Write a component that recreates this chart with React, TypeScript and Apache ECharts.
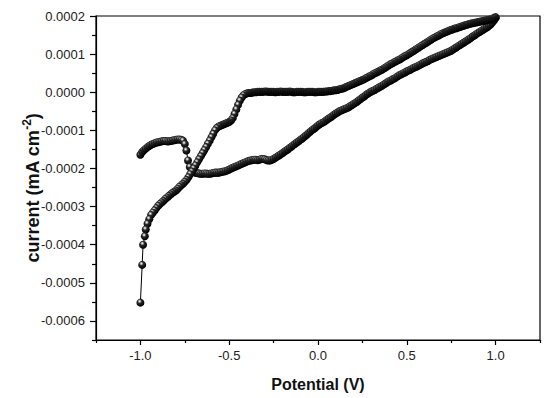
import React, { useEffect, useRef } from "react";
import * as echarts from "echarts";

// [potential (V), current (mA cm^-2)] — forward scan start (hump near −1 V)
const forwardStart: number[][] = [
  [-1.0, -1.64e-4], [-0.99, -1.57e-4], [-0.98, -1.52e-4], [-0.97, -1.48e-4], [-0.96, -1.44e-4],
  [-0.95, -1.41e-4], [-0.94, -1.38e-4], [-0.93, -1.36e-4], [-0.92, -1.34e-4], [-0.91, -1.32e-4],
  [-0.9, -1.31e-4], [-0.89, -1.3e-4], [-0.88, -1.29e-4], [-0.87, -1.28e-4], [-0.86, -1.28e-4],
  [-0.85, -1.29e-4], [-0.84, -1.29e-4], [-0.83, -1.28e-4], [-0.82, -1.27e-4], [-0.81, -1.26e-4],
  [-0.8, -1.25e-4], [-0.79, -1.24e-4], [-0.78, -1.24e-4], [-0.77, -1.25e-4], [-0.76, -1.27e-4],
  [-0.75, -1.36e-4], [-0.741, -1.53e-4], [-0.732, -1.79e-4], [-0.722, -1.96e-4],
];

// forward scan, −0.71 V → 1.0 V
const forwardScan: number[][] = [
  [-0.71, -2.05e-4], [-0.7, -2.09e-4], [-0.69, -2.11e-4], [-0.68, -2.12e-4], [-0.67, -2.13e-4],
  [-0.66, -2.14e-4], [-0.65, -2.14e-4], [-0.64, -2.13e-4], [-0.63, -2.13e-4], [-0.62, -2.14e-4],
  [-0.61, -2.14e-4], [-0.6, -2.13e-4], [-0.59, -2.12e-4], [-0.58, -2.11e-4], [-0.57, -2.11e-4],
  [-0.56, -2.11e-4], [-0.55, -2.1e-4], [-0.54, -2.09e-4], [-0.53, -2.08e-4], [-0.52, -2.07e-4],
  [-0.51, -2.05e-4], [-0.5, -2.03e-4], [-0.49, -2.0e-4], [-0.48, -1.98e-4], [-0.47, -1.96e-4],
  [-0.46, -1.94e-4], [-0.45, -1.92e-4], [-0.44, -1.9e-4], [-0.43, -1.88e-4], [-0.42, -1.86e-4],
  [-0.41, -1.84e-4], [-0.4, -1.82e-4], [-0.39, -1.8e-4], [-0.38, -1.79e-4], [-0.37, -1.78e-4],
  [-0.36, -1.77e-4], [-0.35, -1.77e-4], [-0.34, -1.78e-4], [-0.33, -1.77e-4], [-0.32, -1.75e-4],
  [-0.31, -1.75e-4], [-0.3, -1.76e-4], [-0.29, -1.78e-4], [-0.28, -1.79e-4], [-0.27, -1.79e-4],
  [-0.26, -1.77e-4], [-0.25, -1.75e-4], [-0.24, -1.72e-4], [-0.23, -1.69e-4], [-0.22, -1.66e-4],
  [-0.21, -1.63e-4], [-0.2, -1.6e-4], [-0.19, -1.56e-4], [-0.18, -1.53e-4], [-0.17, -1.5e-4],
  [-0.16, -1.46e-4], [-0.15, -1.43e-4], [-0.14, -1.39e-4], [-0.13, -1.36e-4], [-0.12, -1.32e-4],
  [-0.11, -1.29e-4], [-0.1, -1.25e-4], [-0.09, -1.22e-4], [-0.08, -1.18e-4], [-0.07, -1.14e-4],
  [-0.06, -1.1e-4], [-0.05, -1.06e-4], [-0.04, -1.02e-4], [-0.03, -0.98e-4], [-0.02, -0.95e-4],
  [-0.01, -0.91e-4], [0.0, -0.87e-4], [0.01, -0.84e-4], [0.02, -0.81e-4], [0.03, -0.79e-4],
  [0.04, -0.76e-4], [0.05, -0.72e-4], [0.06, -0.69e-4], [0.07, -0.66e-4], [0.08, -0.63e-4],
  [0.09, -0.59e-4], [0.1, -0.56e-4], [0.11, -0.53e-4], [0.12, -0.5e-4], [0.13, -0.48e-4],
  [0.14, -0.46e-4], [0.15, -0.44e-4], [0.16, -0.42e-4], [0.17, -0.4e-4], [0.18, -0.37e-4],
  [0.19, -0.34e-4], [0.2, -0.31e-4], [0.21, -0.28e-4], [0.22, -0.25e-4], [0.23, -0.21e-4],
  [0.24, -0.18e-4], [0.25, -0.14e-4], [0.26, -0.11e-4], [0.27, -0.07e-4], [0.28, -0.04e-4],
  [0.29, -0.01e-4], [0.3, 0.02e-4], [0.31, 0.04e-4], [0.32, 0.06e-4], [0.33, 0.09e-4],
  [0.34, 0.12e-4], [0.35, 0.14e-4], [0.36, 0.17e-4], [0.37, 0.2e-4], [0.38, 0.23e-4],
  [0.39, 0.26e-4], [0.4, 0.29e-4], [0.41, 0.31e-4], [0.42, 0.34e-4], [0.43, 0.36e-4],
  [0.44, 0.39e-4], [0.45, 0.42e-4], [0.46, 0.45e-4], [0.47, 0.47e-4], [0.48, 0.5e-4],
  [0.49, 0.52e-4], [0.5, 0.55e-4], [0.51, 0.57e-4], [0.52, 0.59e-4], [0.53, 0.62e-4],
  [0.54, 0.64e-4], [0.55, 0.66e-4], [0.56, 0.68e-4], [0.57, 0.71e-4], [0.58, 0.73e-4],
  [0.59, 0.76e-4], [0.6, 0.78e-4], [0.61, 0.8e-4], [0.62, 0.82e-4], [0.63, 0.85e-4],
  [0.64, 0.87e-4], [0.65, 0.89e-4], [0.66, 0.91e-4], [0.67, 0.93e-4], [0.68, 0.95e-4],
  [0.69, 0.97e-4], [0.7, 0.99e-4], [0.71, 1.01e-4], [0.72, 1.03e-4], [0.73, 1.05e-4],
  [0.74, 1.07e-4], [0.75, 1.09e-4], [0.76, 1.12e-4], [0.77, 1.15e-4], [0.78, 1.18e-4],
  [0.79, 1.21e-4], [0.8, 1.24e-4], [0.81, 1.27e-4], [0.82, 1.3e-4], [0.83, 1.33e-4],
  [0.84, 1.36e-4], [0.85, 1.39e-4], [0.86, 1.42e-4], [0.87, 1.46e-4], [0.88, 1.49e-4],
  [0.89, 1.52e-4], [0.9, 1.55e-4], [0.91, 1.58e-4], [0.92, 1.61e-4], [0.93, 1.64e-4],
  [0.94, 1.67e-4], [0.95, 1.7e-4], [0.96, 1.73e-4], [0.97, 1.77e-4], [0.98, 1.82e-4],
  [0.99, 1.88e-4], [1.0, 1.94e-4],
];

// reverse scan, 1.0 V → −1.0 V
const reverseScan: number[][] = [
  [1.0, 1.97e-4], [0.99, 1.95e-4], [0.98, 1.93e-4], [0.97, 1.91e-4], [0.96, 1.9e-4],
  [0.95, 1.89e-4], [0.94, 1.88e-4], [0.93, 1.87e-4], [0.92, 1.86e-4], [0.91, 1.85e-4],
  [0.9, 1.84e-4], [0.89, 1.83e-4], [0.88, 1.82e-4], [0.87, 1.81e-4], [0.86, 1.8e-4],
  [0.85, 1.79e-4], [0.84, 1.77e-4], [0.83, 1.76e-4], [0.82, 1.74e-4], [0.81, 1.73e-4],
  [0.8, 1.71e-4], [0.79, 1.7e-4], [0.78, 1.68e-4], [0.77, 1.67e-4], [0.76, 1.65e-4],
  [0.75, 1.64e-4], [0.74, 1.62e-4], [0.73, 1.6e-4], [0.72, 1.58e-4], [0.71, 1.56e-4],
  [0.7, 1.54e-4], [0.69, 1.52e-4], [0.68, 1.49e-4], [0.67, 1.47e-4], [0.66, 1.44e-4],
  [0.65, 1.42e-4], [0.64, 1.39e-4], [0.63, 1.36e-4], [0.62, 1.33e-4], [0.61, 1.3e-4],
  [0.6, 1.27e-4], [0.59, 1.24e-4], [0.58, 1.21e-4], [0.57, 1.18e-4], [0.56, 1.15e-4],
  [0.55, 1.12e-4], [0.54, 1.09e-4], [0.53, 1.06e-4], [0.52, 1.03e-4], [0.51, 1.0e-4],
  [0.5, 0.97e-4], [0.49, 0.95e-4], [0.48, 0.92e-4], [0.47, 0.89e-4], [0.46, 0.86e-4],
  [0.45, 0.84e-4], [0.44, 0.81e-4], [0.43, 0.79e-4], [0.42, 0.76e-4], [0.41, 0.74e-4],
  [0.4, 0.71e-4], [0.39, 0.68e-4], [0.38, 0.65e-4], [0.37, 0.62e-4], [0.36, 0.59e-4],
  [0.35, 0.57e-4], [0.34, 0.54e-4], [0.33, 0.52e-4], [0.32, 0.5e-4], [0.31, 0.47e-4],
  [0.3, 0.44e-4], [0.29, 0.42e-4], [0.28, 0.39e-4], [0.27, 0.37e-4], [0.26, 0.34e-4],
  [0.25, 0.32e-4], [0.24, 0.3e-4], [0.23, 0.28e-4], [0.22, 0.26e-4], [0.21, 0.24e-4],
  [0.2, 0.22e-4], [0.19, 0.2e-4], [0.18, 0.18e-4], [0.17, 0.16e-4], [0.16, 0.14e-4],
  [0.15, 0.12e-4], [0.14, 0.1e-4], [0.13, 0.09e-4], [0.12, 0.08e-4], [0.11, 0.06e-4],
  [0.1, 0.05e-4], [0.09, 0.05e-4], [0.08, 0.04e-4], [0.07, 0.03e-4], [0.06, 0.03e-4],
  [0.05, 0.02e-4], [0.04, 0.02e-4], [0.03, 0.01e-4], [0.02, 0.01e-4], [0.01, 0.01e-4],
  [0.0, 0.01e-4], [-0.01, 0.0], [-0.02, 0.0], [-0.03, 0.01e-4], [-0.04, 0.01e-4],
  [-0.05, 0.01e-4], [-0.06, 0.01e-4], [-0.07, 0.0], [-0.08, 0.0], [-0.09, 0.01e-4],
  [-0.1, 0.01e-4], [-0.11, 0.01e-4], [-0.12, 0.01e-4], [-0.13, 0.0], [-0.14, 0.0],
  [-0.15, 0.01e-4], [-0.16, 0.02e-4], [-0.17, 0.01e-4], [-0.18, 0.01e-4], [-0.19, 0.01e-4],
  [-0.2, 0.01e-4], [-0.21, 0.02e-4], [-0.22, 0.01e-4], [-0.23, 0.01e-4], [-0.24, 0.0],
  [-0.25, 0.01e-4], [-0.26, 0.01e-4], [-0.27, 0.01e-4], [-0.28, 0.01e-4], [-0.29, 0.02e-4],
  [-0.3, 0.02e-4], [-0.31, 0.01e-4], [-0.32, 0.01e-4], [-0.33, 0.01e-4], [-0.34, 0.01e-4],
  [-0.35, 0.0], [-0.36, 0.0], [-0.37, -0.01e-4], [-0.38, -0.02e-4], [-0.39, -0.02e-4],
  [-0.4, -0.03e-4], [-0.41, -0.05e-4], [-0.42, -0.08e-4], [-0.43, -0.14e-4], [-0.44, -0.22e-4],
  [-0.45, -0.33e-4], [-0.46, -0.45e-4], [-0.47, -0.57e-4], [-0.48, -0.68e-4], [-0.49, -0.74e-4],
  [-0.5, -0.78e-4], [-0.51, -0.8e-4], [-0.52, -0.82e-4], [-0.53, -0.84e-4], [-0.54, -0.86e-4],
  [-0.55, -0.88e-4], [-0.56, -0.9e-4], [-0.57, -0.94e-4], [-0.58, -1.0e-4], [-0.59, -1.09e-4],
  [-0.6, -1.18e-4], [-0.61, -1.27e-4], [-0.62, -1.35e-4], [-0.63, -1.44e-4], [-0.64, -1.52e-4],
  [-0.65, -1.6e-4], [-0.66, -1.68e-4], [-0.67, -1.76e-4], [-0.68, -1.84e-4], [-0.69, -1.92e-4],
  [-0.7, -2.0e-4], [-0.71, -2.08e-4], [-0.72, -2.15e-4], [-0.73, -2.23e-4], [-0.74, -2.3e-4],
  [-0.75, -2.35e-4], [-0.76, -2.4e-4], [-0.77, -2.44e-4], [-0.78, -2.48e-4], [-0.79, -2.53e-4],
  [-0.8, -2.58e-4], [-0.81, -2.61e-4], [-0.82, -2.64e-4], [-0.83, -2.68e-4], [-0.84, -2.72e-4],
  [-0.85, -2.76e-4], [-0.86, -2.8e-4], [-0.87, -2.85e-4], [-0.88, -2.89e-4], [-0.89, -2.93e-4],
  [-0.9, -2.98e-4], [-0.91, -3.04e-4], [-0.92, -3.1e-4], [-0.93, -3.16e-4], [-0.94, -3.22e-4],
  [-0.95, -3.33e-4], [-0.96, -3.45e-4], [-0.97, -3.6e-4], [-0.975, -3.78e-4], [-0.985, -4.0e-4],
  [-0.99, -4.53e-4], [-1.0, -5.52e-4],
];

const xTickValues = [-1, -0.5, 0, 0.5, 1];
const xMinorTickValues = [-1.25, -0.75, -0.25, 0.25, 0.75, 1.25];
const yTickValues = [-0.0006, -0.0005, -0.0004, -0.0003, -0.0002, -0.0001, 0, 0.0001, 0.0002];
const yMinorTickValues = [
  -0.00065, -0.00055, -0.00045, -0.00035, -0.00025, -0.00015, -0.00005, 0.00005, 0.00015,
];
const xTitle = "Potential (V)";
const yTitleMain = "current (mA cm";
const yTitleSup = "-2";
const yTitleEnd = ")";

const FONT = "'Liberation Sans', Arial, sans-serif";
const X_MIN = -1.25;
const X_MAX = 1.25;
const Y_MIN = -0.00065;
const Y_MAX = 0.0002;

export default function App() {
  const ref = useRef<HTMLDivElement>(null);

  useEffect(() => {
    if (!ref.current) return;
    const chart = echarts.init(ref.current, undefined, { renderer: "svg" });

    const data = [...forwardStart, ...forwardScan, ...reverseScan];

    const sphere = new echarts.graphic.RadialGradient(0.4, 0.33, 0.62, [
      { offset: 0, color: "#ffffff" },
      { offset: 0.14, color: "#c8c8c8" },
      { offset: 0.42, color: "#2a2a2a" },
      { offset: 1, color: "#000000" },
    ]);

    const tickLine = { color: "#000", width: 1.2 };

    const xBase = {
      type: "value",
      min: X_MIN,
      max: X_MAX,
      position: "bottom",
      splitLine: { show: false },
    };
    const yBase = {
      type: "value",
      min: Y_MIN,
      max: Y_MAX,
      position: "left",
      splitLine: { show: false },
    };

    chart.setOption({
      animation: false,
      backgroundColor: "#ffffff",
      grid: {
        left: 96,
        right: 10,
        top: 16,
        bottom: 58,
        show: true,
        borderColor: "#000",
        borderWidth: 1.2,
        backgroundColor: "transparent",
      },
      xAxis: [
        {
          ...xBase,
          axisLine: { show: true, onZero: false, lineStyle: tickLine },
          axisTick: { show: false },
          axisLabel: {
            customValues: xTickValues,
            formatter: (v: number) => v.toFixed(1),
            color: "#222",
            fontSize: 13,
            fontFamily: FONT,
            margin: 9,
          },
        },
        {
          ...xBase,
          axisLine: { show: false, onZero: false },
          axisTick: { show: true, customValues: xTickValues, length: 5, lineStyle: tickLine },
          axisLabel: { show: false },
        },
        {
          ...xBase,
          axisLine: { show: false, onZero: false },
          axisTick: { show: true, customValues: xMinorTickValues, length: 3, lineStyle: tickLine },
          axisLabel: { show: false },
        },
      ],
      yAxis: [
        {
          ...yBase,
          axisLine: { show: true, onZero: false, lineStyle: tickLine },
          axisTick: { show: false },
          axisLabel: {
            customValues: yTickValues,
            formatter: (v: number) => v.toFixed(4),
            color: "#222",
            fontSize: 13,
            fontFamily: FONT,
            margin: 11,
          },
        },
        {
          ...yBase,
          axisLine: { show: false, onZero: false },
          axisTick: { show: true, customValues: yTickValues, length: 6, lineStyle: tickLine },
          axisLabel: { show: false },
        },
        {
          ...yBase,
          axisLine: { show: false, onZero: false },
          axisTick: { show: true, customValues: yMinorTickValues, length: 4, lineStyle: tickLine },
          axisLabel: { show: false },
        },
      ],
      graphic: [
        {
          type: "text",
          x: 318,
          y: 384,
          style: {
            text: xTitle,
            fontSize: 16,
            fontWeight: "bold",
            fontFamily: FONT,
            fill: "#111",
            align: "center",
            verticalAlign: "middle",
          },
        },
        {
          type: "text",
          x: 33,
          y: 188,
          rotation: Math.PI / 2,
          style: {
            text: `{a|${yTitleMain}}{b|${yTitleSup}}{a|${yTitleEnd}}`,
            align: "center",
            verticalAlign: "middle",
            rich: {
              a: {
                fontSize: 18,
                fontWeight: "bold",
                fontFamily: FONT,
                fill: "#111",
                lineHeight: 24,
              },
              b: {
                fontSize: 12,
                fontWeight: "bold",
                fontFamily: FONT,
                fill: "#111",
                lineHeight: 16,
                verticalAlign: "top",
              },
            },
          },
        },
      ],
      series: [
        {
          type: "line",
          xAxisIndex: 0,
          yAxisIndex: 0,
          data,
          symbol: "circle",
          symbolSize: 8,
          showSymbol: true,
          showAllSymbol: true,
          lineStyle: { color: "#000", width: 1 },
          itemStyle: { color: sphere, borderWidth: 0 },
          emphasis: { disabled: true },
          z: 3,
        },
      ],
    });

    return () => chart.dispose();
  }, []);

  return (
    <div
      ref={ref}
      style={{ position: "fixed", left: 0, top: 0, width: 550, height: 398 }}
    />
  );
}
